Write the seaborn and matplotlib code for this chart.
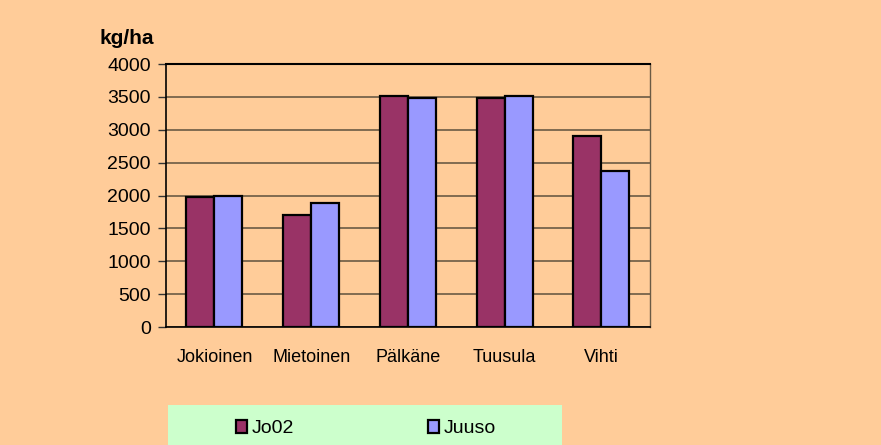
import matplotlib
matplotlib.use("Agg")
import matplotlib.pyplot as plt
from matplotlib.patches import Rectangle
from matplotlib.ticker import FixedLocator
import pandas as pd
import seaborn as sns

# values
places = ["Jokioinen", "Mietoinen", "Pälkäne", "Tuusula", "Vihti"]
jo02 = [1980, 1710, 3520, 3490, 2900]
juuso = [2000, 1880, 3485, 3510, 2370]
series = ["Jo02", "Juuso"]
colors = ["#993366", "#9999FF"]

df = pd.DataFrame({
    "place": places * 2,
    "yield": jo02 + juuso,
    "series": [series[0]] * len(places) + [series[1]] * len(places),
})

sns.set_theme(style="white")
plt.rcParams["font.family"] = ["Liberation Sans", "DejaVu Sans"]
plt.rcParams["text.color"] = "black"
plt.rcParams["xtick.color"] = "black"
plt.rcParams["ytick.color"] = "black"

fig = plt.figure(figsize=(8.81, 4.45), dpi=100, facecolor="#FFCC99")
ax = fig.add_axes([0.1885, 0.265, 0.549, 0.591])
ax.set_facecolor("#FFCC99")

sns.barplot(data=df, x="place", y="yield", hue="series", palette=colors,
            saturation=1, width=0.58, gap=0, edgecolor="black", linewidth=1.6,
            ax=ax, legend=False, zorder=3)

ax.set_ylim(0, 4000)
ax.set_xlim(-0.5, len(places) - 0.5)
ax.set_yticks(range(0, 4001, 500))
ax.yaxis.grid(True, color="#6b5a44", linewidth=1.2, zorder=0)
ax.set_axisbelow(True)
ax.set_xlabel("")
ax.set_ylabel("")

for side in ["left", "bottom"]:
    ax.spines[side].set_color("black")
    ax.spines[side].set_linewidth(1.2)
ax.spines["top"].set_color("black")
ax.spines["top"].set_linewidth(1.5)
ax.spines["right"].set_color("#6b5a44")
ax.spines["right"].set_linewidth(1.0)

# category separators as tick marks below the axis
ax.tick_params(axis="x", which="major", length=0, labelsize=13, pad=16)
ax.xaxis.set_minor_locator(FixedLocator([i - 0.5 for i in range(len(places) + 1)]))
ax.tick_params(axis="x", which="minor", length=6, width=1, color="#333333",
               direction="out")
ax.tick_params(axis="y", length=6, width=1, color="#333333", direction="out",
               labelsize=14, pad=5, left=True)

fig.text(0.1135, 0.914, "kg/ha", fontsize=15, fontweight="bold", ha="left",
         va="center")

# legend box
fig.patches.append(Rectangle((0.191, 0.0), 0.447, 0.09, transform=fig.transFigure,
                             facecolor="#CCFFCC", edgecolor="none", zorder=0))
handles = [Rectangle((0, 0), 1, 1, facecolor=c, edgecolor="black", linewidth=1.6)
           for c in colors]
fig.legend(handles, series, loc="center", bbox_to_anchor=(0.415, 0.036), ncol=2,
           frameon=False, fontsize=14, handlelength=0.6, handleheight=0.6,
           handletextpad=0.2, columnspacing=6.9)

fig.savefig("out.png", dpi=100, facecolor=fig.get_facecolor())
